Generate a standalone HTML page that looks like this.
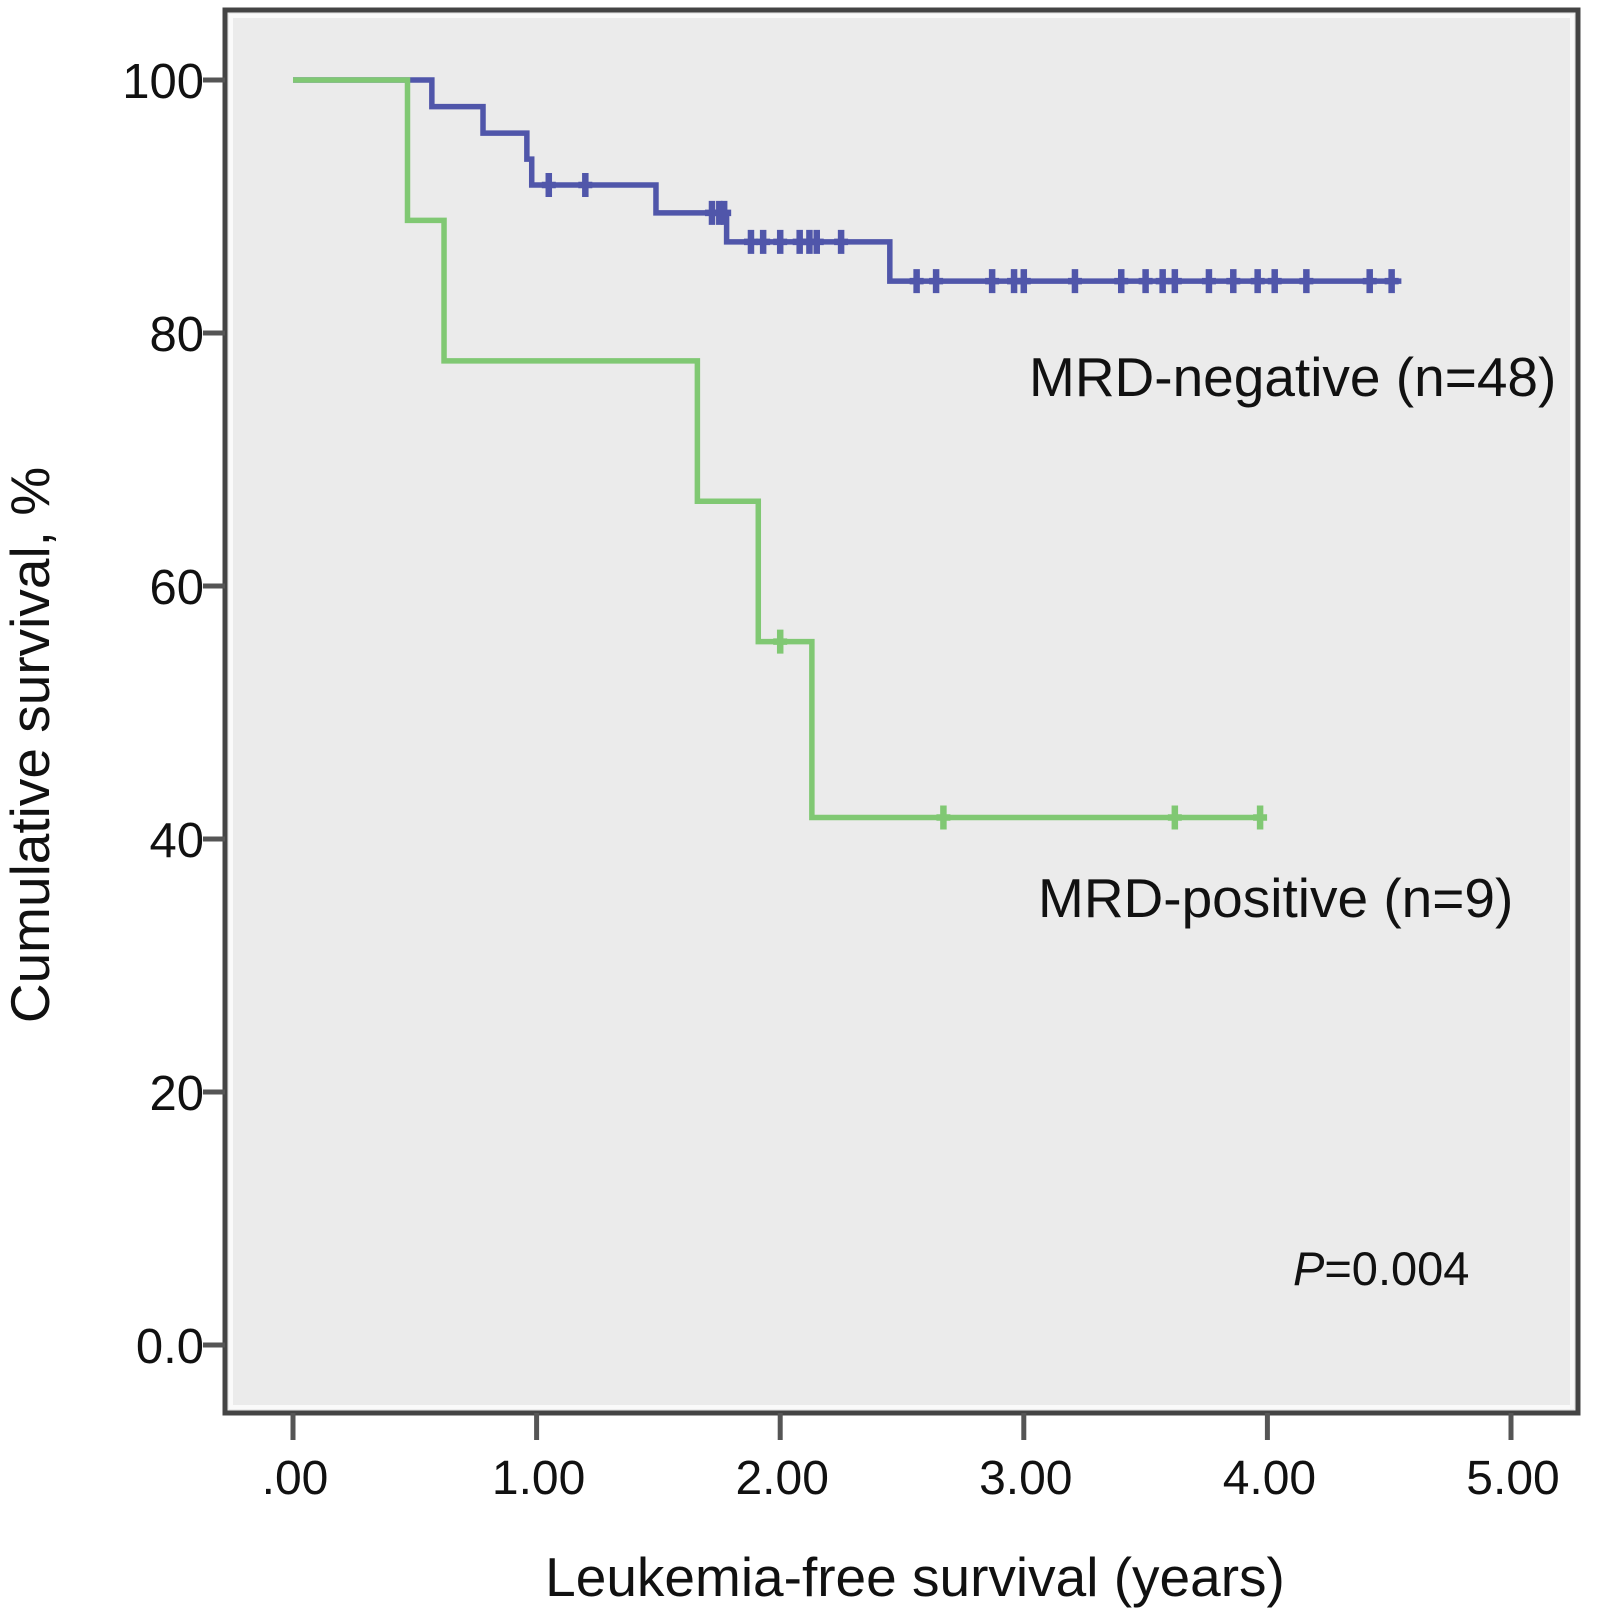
<!DOCTYPE html>
<html><head><meta charset="utf-8"><style>
html,body{margin:0;padding:0;background:#fff;}
svg{display:block;font-family:"Liberation Sans",Arial,sans-serif;}
</style></head><body>
<svg id="chart" width="1597" height="1622" viewBox="0 0 1597 1622" xmlns="http://www.w3.org/2000/svg">
<rect x="225" y="10" width="1353" height="1403" fill="#ebebeb" stroke="#444" stroke-width="5"/>
<rect x="231" y="16" width="1341" height="1391" fill="none" stroke="#fafafa" stroke-width="4"/>
<g id="axes"></g>
<g id="series"></g>
<text x="1029" y="396" font-size="55" fill="#111">MRD-negative (n=48)</text>
<text x="1038" y="917" font-size="55" fill="#111">MRD-positive (n=9)</text>
<text x="1293" y="1285" font-size="47" fill="#111"><tspan font-style="italic">P</tspan>=0.004</text>
<text x="915" y="1596" font-size="55" text-anchor="middle" fill="#111">Leukemia-free survival (years)</text>
<text transform="translate(49,745) rotate(-90)" font-size="55" text-anchor="middle" fill="#111">Cumulative survival, %</text>
</svg>
<script>
const yTicks = [0, 20, 40, 60, 80, 100];
const yTickLabels = ["0.0", "20", "40", "60", "80", "100"];
const xTicks = [0, 1, 2, 3, 4, 5];
const xTickLabels = [".00", "1.00", "2.00", "3.00", "4.00", "5.00"];
const negTimes = [0, 0.57, 0.78, 0.96, 0.98, 1.49, 1.78, 2.45, 4.55];
const negSurv = [100, 97.9, 95.8, 93.75, 91.7, 89.5, 87.2, 84.1, 84.1];
const negCensorT = [1.05, 1.2, 1.72, 1.75, 1.77, 1.88, 1.93, 2.0, 2.08, 2.12, 2.15, 2.25, 2.56, 2.64, 2.87, 2.96, 3.0, 3.21, 3.4, 3.5, 3.57, 3.62, 3.76, 3.86, 3.96, 4.03, 4.16, 4.42, 4.51];
const posTimes = [0, 0.47, 0.62, 1.66, 1.91, 2.13, 3.97];
const posSurv = [100, 88.9, 77.8, 66.7, 55.6, 41.7, 41.7];
const posCensorT = [2.0, 2.67, 3.62, 3.97];

const NS = "http://www.w3.org/2000/svg";
const X = t => 293 + t * 243.6;
const Y = v => 1345 - v * 12.65;
function mk(tag, attrs, parent) {
  const e = document.createElementNS(NS, tag);
  for (const k in attrs) e.setAttribute(k, attrs[k]);
  parent.appendChild(e);
  return e;
}
const axes = document.getElementById("axes");
yTicks.forEach((v, i) => {
  const l = mk("line", {x1: 203, x2: 225, y1: Y(v), y2: Y(v), stroke: "#555", "stroke-width": 5}, axes);
  
  
  const t = mk("text", {x: 204, y: Y(v) + 18, "font-size": 49, "text-anchor": "end", fill: "#111"}, axes);
  t.textContent = yTickLabels[i];
  
  
});
xTicks.forEach((v, i) => {
  const l = mk("line", {x1: X(v), x2: X(v), y1: 1413, y2: 1440, stroke: "#555", "stroke-width": 5}, axes);
  
  
  const t = mk("text", {x: X(v) + 2, y: 1494, "font-size": 48, "text-anchor": "middle", fill: "#111"}, axes);
  t.textContent = xTickLabels[i];
  
  
});
const series = document.getElementById("series");
function stepPath(ts, ss) {
  let d = "M" + X(ts[0]) + "," + Y(ss[0]);
  for (let i = 1; i < ts.length; i++) {
    d += " H" + X(ts[i]) + " V" + Y(ss[i]);
  }
  return d;
}
function survAt(ts, ss, t) {
  let s = ss[0];
  for (let i = 0; i < ts.length; i++) if (ts[i] <= t) s = ss[i];
  return s;
}
function drawSeries(name, ts, ss, cs, color, w) {
  const g = mk("g", {}, series);
  
  
  const p = mk("path", {d: stepPath(ts, ss), fill: "none", stroke: color, "stroke-width": w, "stroke-linejoin": "miter"}, g);
  
  
  cs.forEach(t => {
    const y = Y(survAt(ts, ss, t));
    const c = mk("path", {d: "M" + (X(t) - 7) + "," + y + " H" + (X(t) + 7) + " M" + X(t) + "," + (y - 12) + " V" + (y + 12), stroke: color, "stroke-width": 6.5}, g);
    
    
  });
}
drawSeries("mrd-negative", negTimes, negSurv, negCensorT, "#5056aa", 5.5);
drawSeries("mrd-positive", posTimes, posSurv, posCensorT, "#80c873", 5.5);
</script>
</body></html>
